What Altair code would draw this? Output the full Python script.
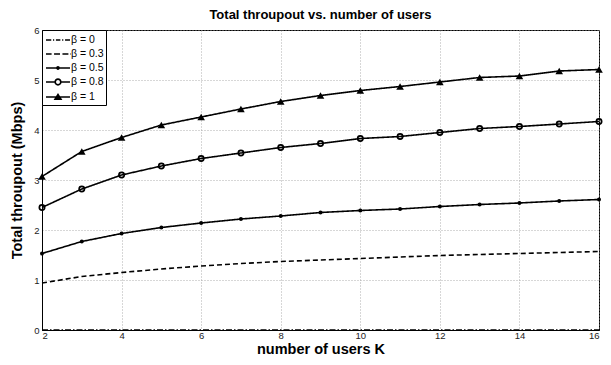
import altair as alt
import pandas as pd

K = list(range(2, 17))
beta_labels = ["β = 0", "β = 0.3", "β = 0.5", "β = 0.8", "β = 1"]
b0 = [0.0] * 15
b03 = [0.94, 1.07, 1.15, 1.22, 1.28, 1.33, 1.37, 1.40, 1.43, 1.46, 1.49, 1.51, 1.53, 1.55, 1.57]
b05 = [1.53, 1.77, 1.93, 2.05, 2.14, 2.22, 2.28, 2.35, 2.39, 2.42, 2.47, 2.51, 2.54, 2.58, 2.61]
b08 = [2.45, 2.82, 3.10, 3.28, 3.43, 3.54, 3.65, 3.73, 3.83, 3.87, 3.95, 4.03, 4.07, 4.12, 4.17]
b1 = [3.07, 3.57, 3.85, 4.10, 4.26, 4.42, 4.57, 4.69, 4.79, 4.87, 4.96, 5.05, 5.08, 5.18, 5.21]
x_ticks = [2, 4, 6, 8, 10, 12, 14, 16]
y_ticks = [0, 1, 2, 3, 4, 5, 6]

series = [b0, b03, b05, b08, b1]
rows = []
for lab, vals in zip(beta_labels, series):
    for k, v in zip(K, vals):
        rows.append({"K": k, "T": v, "beta": lab})
df = pd.DataFrame(rows)


def circ(cx, r, sweep=1):
    return (f"M{cx + r:.3f},0A{r},{r},0,1,{sweep},{cx - r:.3f},0"
            f"A{r},{r},0,1,{sweep},{cx + r:.3f},0Z")


def tri(cx, s):
    return (f"M{cx:.3f},{-0.55 * s:.3f}L{cx + 0.6 * s:.3f},{0.4 * s:.3f}"
            f"L{cx - 0.6 * s:.3f},{0.4 * s:.3f}Z")


H = 0.11  # half thickness of the legend line sample (unit = 7 px)


def seg(a, b):
    return f"M{a:.3f},{-H}L{b:.3f},{-H}L{b:.3f},{H}L{a:.3f},{H}Z"


# legend glyphs, drawn as filled shapes (symbol centre shifted right)
c = 0.857
L0, L1 = -0.857, 2.571
leg_paths = [
    seg(L0, L0 + 0.75) + seg(L0 + 1.0, L0 + 1.17) + seg(L0 + 1.42, L0 + 2.05)
    + seg(L0 + 2.3, L0 + 2.47) + seg(L0 + 2.72, L1),
    seg(L0, L0 + 0.8) + seg(L0 + 1.15, L0 + 2.0) + seg(L0 + 2.35, L0 + 3.2) + seg(L0 + 3.5, L1),
    seg(L0, L1) + circ(c, 0.27),
    seg(L0, c - 0.5) + seg(c + 0.5, L1) + circ(c, 0.52) + circ(c, 0.28, 0),
    seg(L0, L1) + tri(c, 1.05),
]

font = "Liberation Sans"

xenc = alt.X("K:Q", scale=alt.Scale(domain=[2, 16], nice=False),
             axis=alt.Axis(values=x_ticks, title="number of users K", grid=True))
yenc = alt.Y("T:Q", scale=alt.Scale(domain=[0, 6], nice=False),
             axis=alt.Axis(values=y_ticks, title="Total throupout (Mbps)", grid=True))

lines = alt.Chart(df).mark_line(color="black", strokeWidth=1.6).encode(
    x=xenc, y=yenc,
    strokeDash=alt.StrokeDash("beta:N", scale=alt.Scale(
        domain=beta_labels,
        range=[[6, 2, 1.5, 2], [5, 3], [1, 0], [1, 0], [1, 0]]), legend=None),
    detail="beta:N",
)

d05 = df[df["beta"] == beta_labels[2]]
d08 = df[df["beta"] == beta_labels[3]]
d1 = df[df["beta"] == beta_labels[4]]
p05 = alt.Chart(d05).mark_point(shape="circle", filled=True, color="black", size=16, opacity=1).encode(
    x="K:Q", y="T:Q")
p08 = alt.Chart(d08).mark_point(shape="circle", filled=False, color="black", size=28,
                                strokeWidth=1.7, opacity=1).encode(x="K:Q", y="T:Q")
p1 = alt.Chart(d1).mark_point(shape="triangle-up", filled=True, color="black", size=58, opacity=1).encode(
    x="K:Q", y="T:Q")

legend_layer = alt.Chart(df).transform_filter("datum.K < 0").mark_point(
    filled=True, color="black", opacity=1
).encode(
    x="K:Q", y="T:Q",
    shape=alt.Shape("beta:N", scale=alt.Scale(domain=beta_labels, range=leg_paths),
                    legend=alt.Legend(title=None, orient="top-left", offset=0,
                                      symbolSize=196, symbolFillColor="black",
                                      labelFont=font, labelFontSize=10.5, labelColor="black",
                                      strokeColor="black", fillColor="white",
                                      padding=2, rowPadding=0, labelOffset=11)),
)

chart = alt.layer(lines, p05, p08, p1, legend_layer).resolve_scale(
    shape="independent", strokeDash="independent"
).properties(
    width=557, height=300,
    title=alt.TitleParams("Total throupout vs. number of users", font=font, fontSize=13,
                          fontWeight="bold", color="black", offset=3),
    autosize=alt.AutoSizeParams(type="none"),
    padding={"left": 34, "top": 22, "right": 4, "bottom": 27},
).configure_view(stroke="black", strokeWidth=1).configure_axis(
    domainColor="black", ticks=False, labelFont=font, labelFontSize=9.5, labelColor="#222",
    titleFont=font, titleFontSize=14.5, titleFontWeight="bold", titleColor="black",
    gridColor="#999", gridDash=[1, 2], gridWidth=0.8,
).configure_axisX(labelPadding=0, titlePadding=3).configure_axisY(labelPadding=3, titlePadding=9)

chart.save("out.html", embed_options={"renderer": "svg", "actions": False})
